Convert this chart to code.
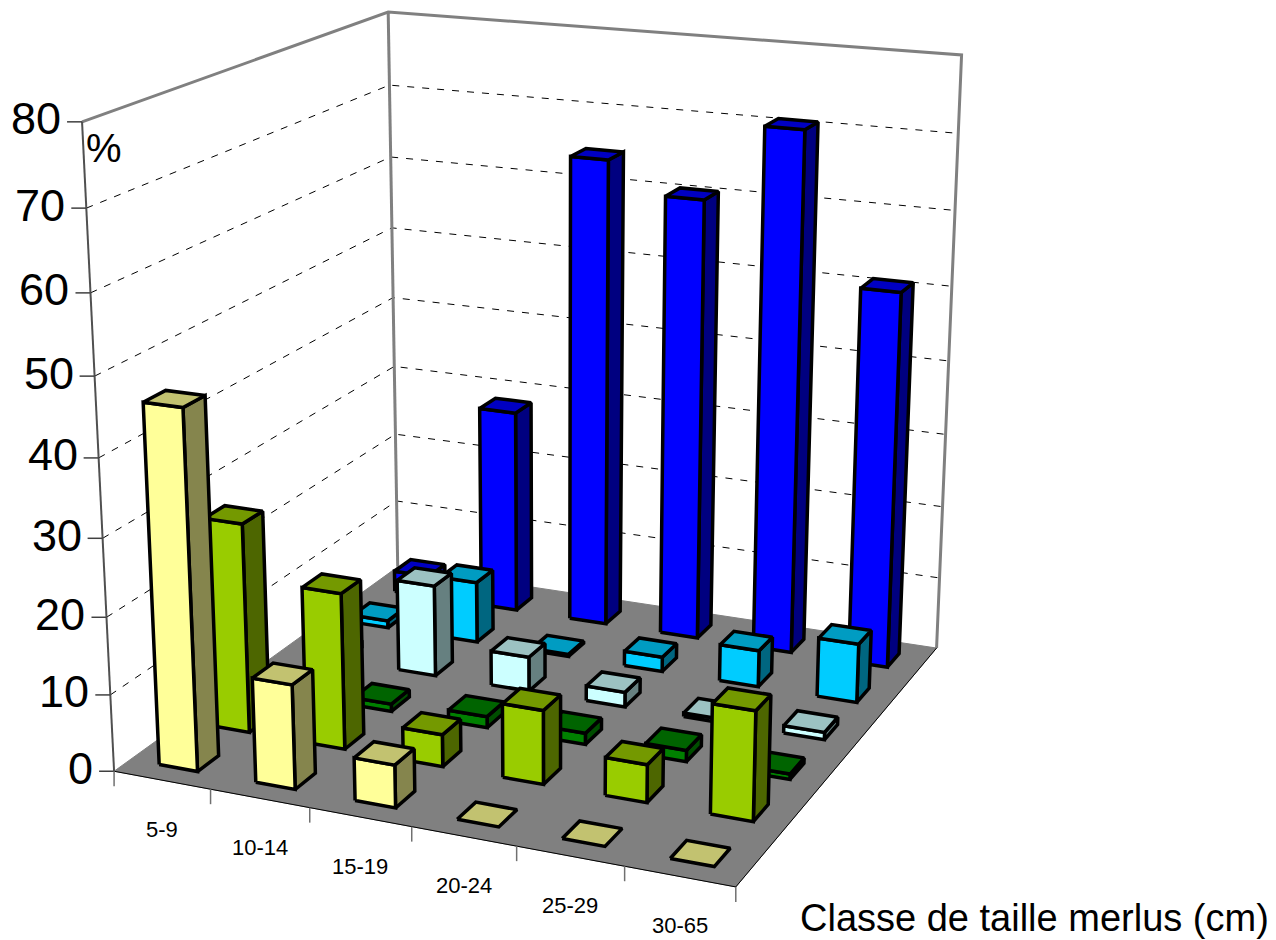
import numpy as np, plotly.graph_objects as go

# ---- data ----
categories = ["5-9", "10-14", "15-19", "20-24", "25-29", "30-65"]
row1 = [46.2, 13.5, 5.5, 0, 0, 0]
row2 = [27.6, 20.5, 4.2, 9.6, 4.9, 14]
row3 = [1, 1, 1.5, 1.5, 1.5, 0.7]
row4 = [1, 12.5, 4.7, 2, 0.5, 1]
row5 = [1, 8.5, 0.3, 2, 5, 8]
row6 = [3, 28.5, 64.6, 60.5, 70.8, 51]
z_ticks = [0, 10, 20, 30, 40, 50, 60, 70, 80]
axis_title = "Classe de taille merlus (cm)"
unit_label = "%"

rows = [row1, row2, row3, row4, row5, row6]
row_front = ["#FFFF99", "#99CC00", "#008000", "#CCFFFF", "#00CCFF", "#0000FF"]
row_top = ["#C2C270", "#749900", "#006400", "#9CC2C2", "#009CC2", "#0000C2"]
row_side = ["#85854D", "#4D6600", "#004D00", "#668080", "#006680", "#000080"]

# ---- 3D view: a perspective camera calibrated on the corners of the plot box ----
box_corners = {(0, 0, 0): (113, 771), (1, 0, 0): (736, 887), (1, 1, 0): (936, 648), (0, 1, 0): (399, 567),
               (0, 0, 1): (83, 122), (0, 1, 1): (387, 12), (1, 1, 1): (962, 55)}
A = []
for (u, v, w), (sx, sy) in box_corners.items():
    A.append([u, v, w, 1, 0, 0, 0, 0, -sx * u, -sx * v, -sx * w, -sx])
    A.append([0, 0, 0, 0, u, v, w, 1, -sy * u, -sy * v, -sy * w, -sy])
CAM = np.linalg.svd(np.array(A, float))[2][-1].reshape(3, 4)
NX, NY, ZMAX = len(categories), len(rows), z_ticks[-1]


def project(x, y, z):
    h = CAM @ np.array([x / NX, y / NY, z / ZMAX, 1.0])
    return h[0] / h[2], h[1] / h[2]


def path(points):
    s = [project(*p) for p in points]
    return [a for a, _ in s], [b for _, b in s]


fig = go.Figure()


def poly(points, fill, line="black", width=3.5):
    xs, ys = path(points + points[:1])
    fig.add_trace(go.Scatter(x=xs, y=ys, mode="lines", fill="toself", fillcolor=fill,
                             line=dict(color=line, width=width), hoverinfo="skip"))


def line(points, color, width, dash=None):
    xs, ys = path(points)
    fig.add_trace(go.Scatter(x=xs, y=ys, mode="lines", line=dict(color=color, width=width, dash=dash), hoverinfo="skip"))


def shifted(x, y, z, dx, dy, color="#404040", width=1.5):
    sx, sy = project(x, y, z)
    fig.add_trace(go.Scatter(x=[sx, sx + dx], y=[sy, sy + dy], mode="lines", line=dict(color=color, width=width), hoverinfo="skip"))


# floor
poly([(0, 0, 0), (NX, 0, 0), (NX, NY, 0), (0, NY, 0)], "#808080", line="#808080", width=1)
line([(0, 0, 0), (NX, 0, 0), (NX, NY, 0)], "black", 1)
# grid lines on the two walls
for t in z_ticks[1:-1]:
    line([(0, 0, t), (0, NY, t), (NX, NY, t)], "black", 1, dash="7px,8px")
# wall frame
line([(0, 0, ZMAX), (0, NY, ZMAX), (NX, NY, ZMAX), (NX, NY, 0)], "#808080", 3)
line([(0, NY, 0), (0, NY, ZMAX)], "#808080", 3)
line([(0, 0, 0), (0, 0, ZMAX)], "#505050", 2)
# ticks
for t in z_ticks:
    shifted(0, 0, t, -15, 0)
for i in range(NX + 1):
    shifted(i, 0, 0, 0, 15, color="#707070")

# bars, back row first
BW, BD = 0.4, 0.4
for j in range(NY - 1, -1, -1):
    for i in range(NX):
        h = rows[j][i]
        x0, x1 = i + .5 - BW / 2, i + .5 + BW / 2
        y0, y1 = j + .5 - BD / 2, j + .5 + BD / 2
        if h > 0:
            poly([(x1, y0, 0), (x1, y1, 0), (x1, y1, h), (x1, y0, h)], row_side[j])
            poly([(x0, y0, 0), (x1, y0, 0), (x1, y0, h), (x0, y0, h)], row_front[j])
        poly([(x0, y0, h), (x1, y0, h), (x1, y1, h), (x0, y1, h)], row_top[j])

ann = []
for t in z_ticks:
    sx, sy = project(0, 0, t)
    ann.append(dict(x=sx, y=sy, text=str(t), showarrow=False, xanchor="right", xshift=-19, yshift=3,
                    font=dict(family="Liberation Sans", size=45, color="black")))
for i, c in enumerate(categories):
    sx, sy = project(i + .5, 0, 0)
    ann.append(dict(x=sx, y=sy, text=c, showarrow=False, yshift=-49,
                    font=dict(family="Liberation Sans", size=22, color="black")))
sx, sy = project(0, 0, ZMAX)
ann.append(dict(x=sx, y=sy, text=unit_label, showarrow=False, xanchor="left", xshift=2, yshift=-26,
                font=dict(family="Liberation Sans", size=40, color="black")))
sx, sy = project(NX, 0, 0)
ann.append(dict(x=sx, y=sy, text=axis_title, showarrow=False, xanchor="left", xshift=62, yshift=-31,
                font=dict(family="Liberation Sans", size=38, color="black")))

fig.update_layout(width=1276, height=940, margin=dict(l=0, r=0, t=0, b=0), paper_bgcolor="white",
                  plot_bgcolor="white", showlegend=False, annotations=ann,
                  xaxis=dict(visible=False, range=[0, 1276]),
                  yaxis=dict(visible=False, range=[940, 0]))
fig.write_html("out.html", config=dict(displayModeBar=False),
               post_script="document.body.style.margin='0';document.documentElement.style.overflow='hidden';")
